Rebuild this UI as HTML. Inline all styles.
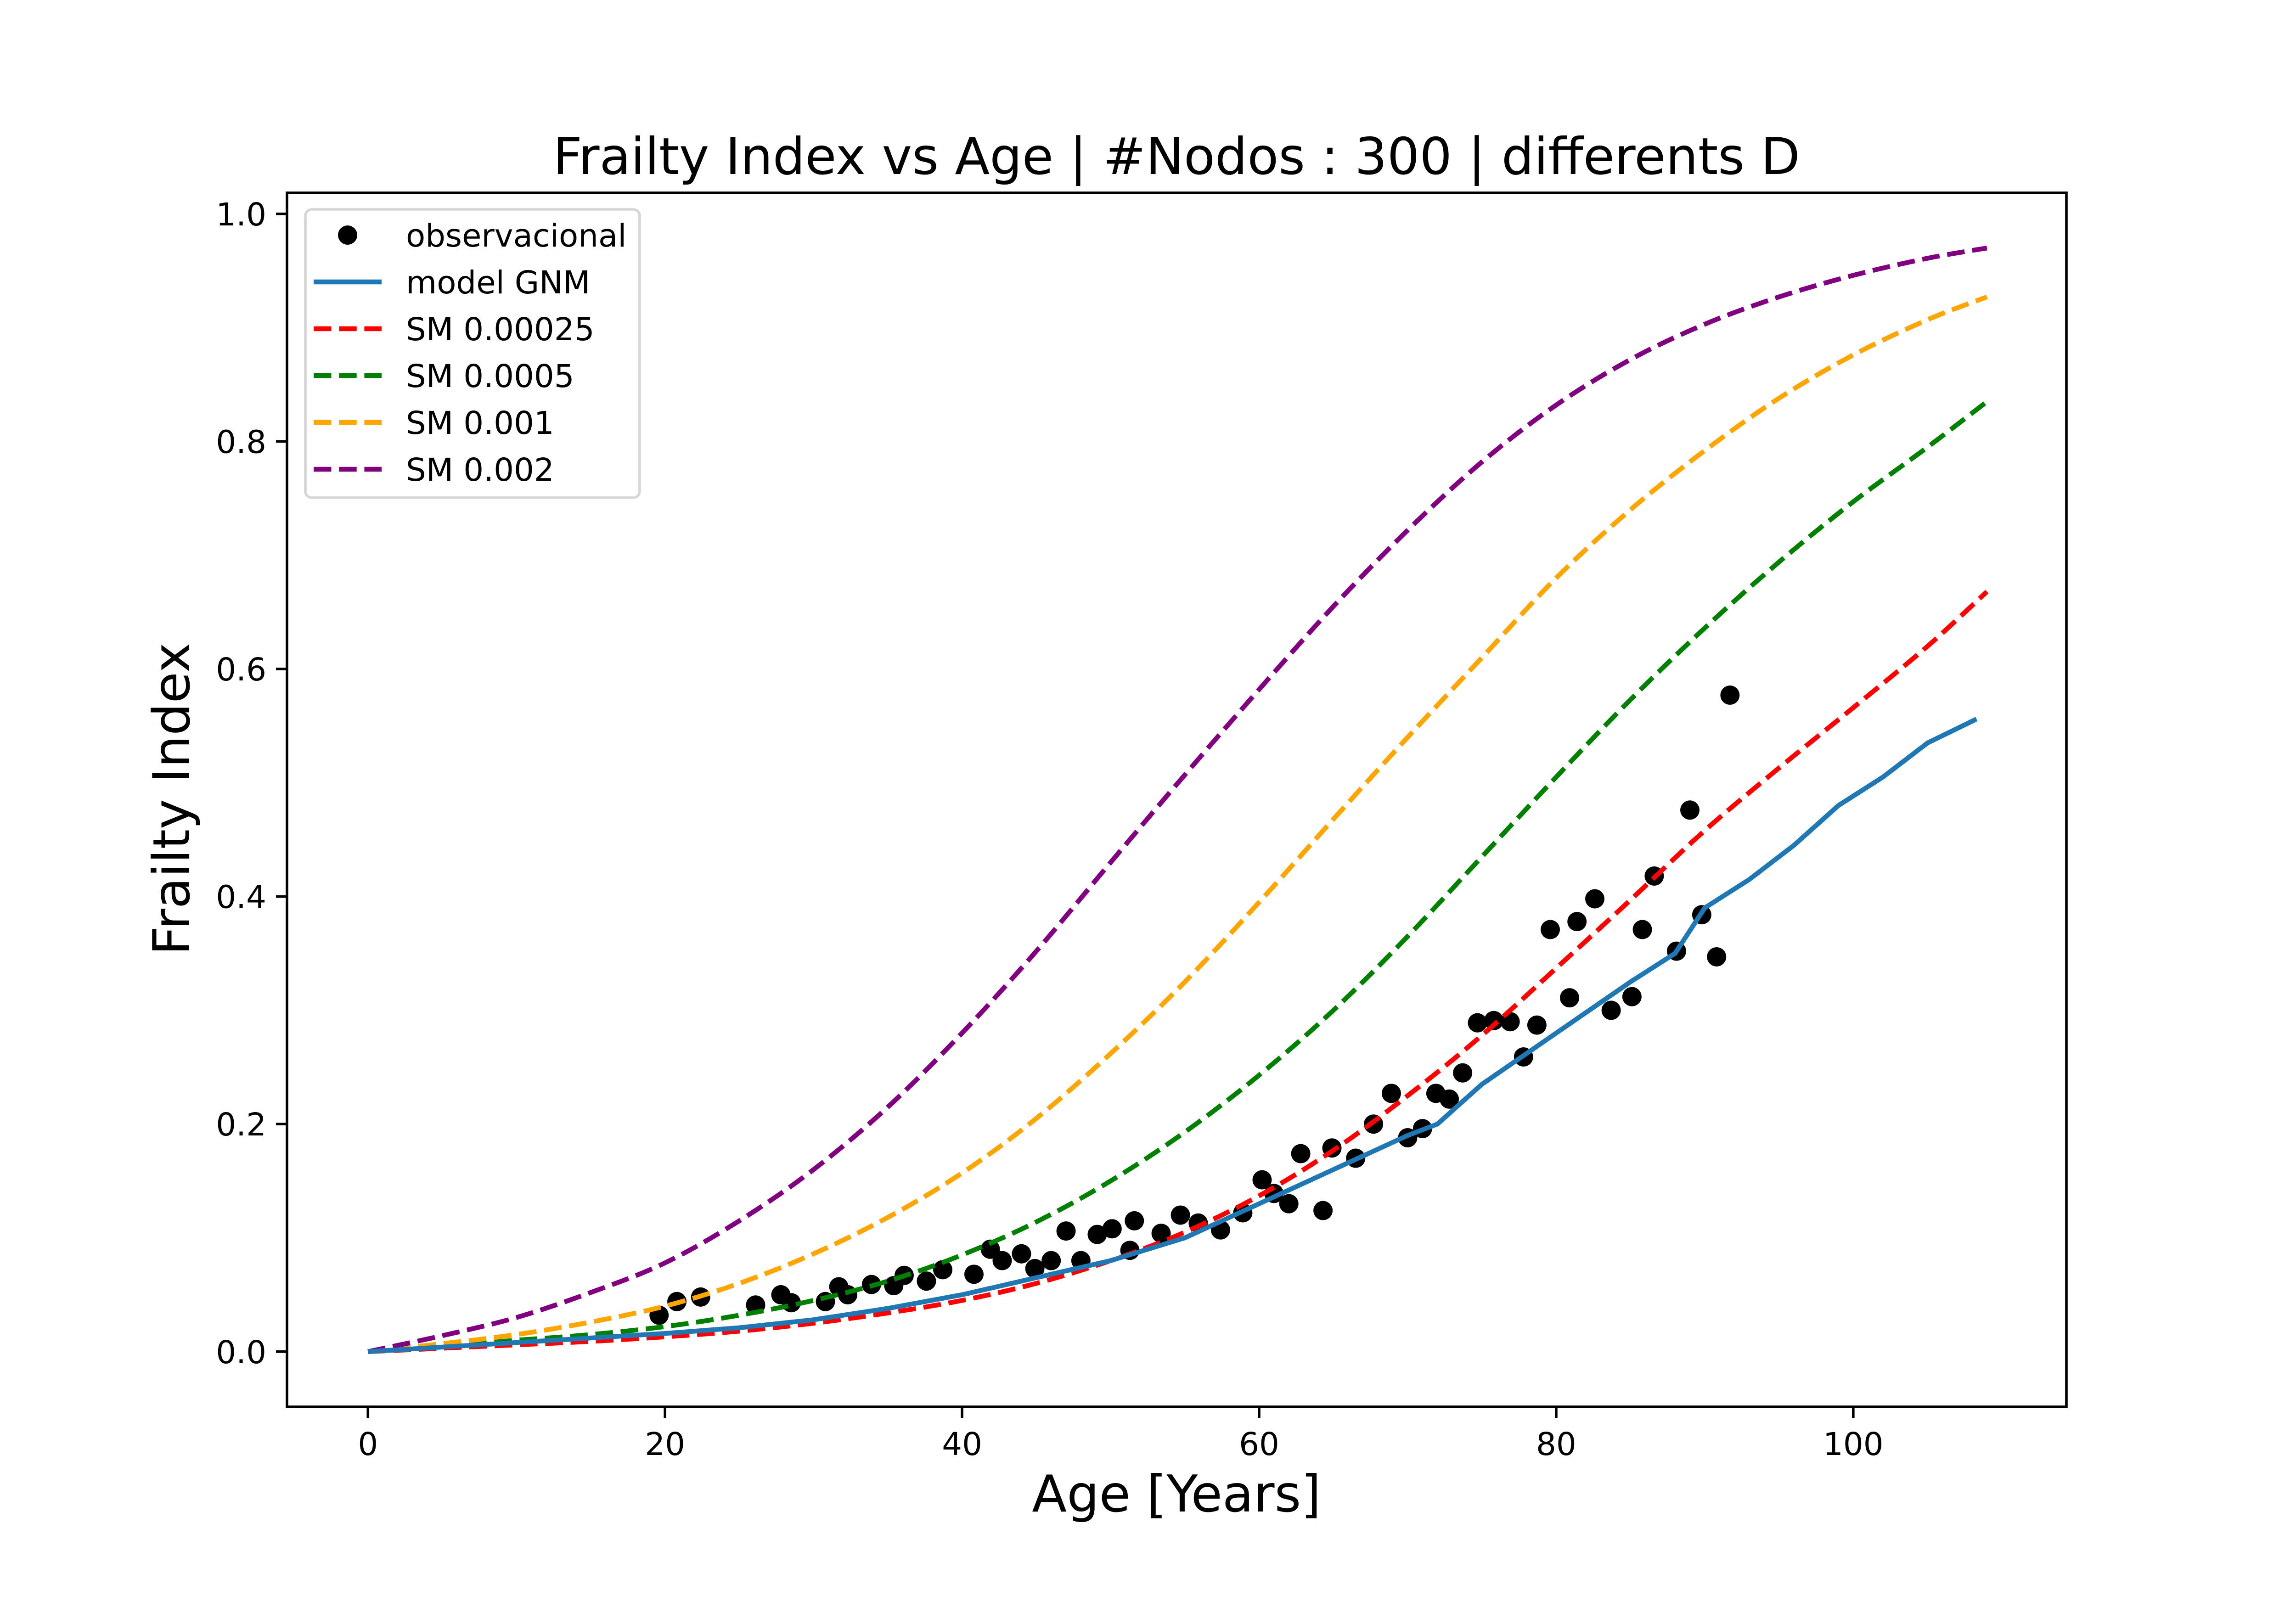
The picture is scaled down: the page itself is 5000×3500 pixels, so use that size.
<!DOCTYPE html>
<html><head><meta charset="utf-8"><style>
html,body{margin:0;padding:0;background:#fff;}
svg{display:block;font-family:"DejaVu Sans","Liberation Sans",sans-serif;}
</style></head><body>
<svg id="chart" width="5000" height="3500" viewBox="0 0 5000 3500" xmlns="http://www.w3.org/2000/svg">
<rect x="0" y="0" width="5000" height="3500" fill="#fff"/>
<text x="2562" y="379" font-size="111" text-anchor="middle">Frailty Index vs Age | #Nodos : 300 | differents D</text>
<text x="2562" y="3292" font-size="111" text-anchor="middle">Age [Years]</text>
<text transform="translate(412,1740) rotate(-90)" font-size="111" text-anchor="middle">Frailty Index</text>
<g id="plot"></g>
<rect x="625" y="420" width="3875" height="2644" fill="none" stroke="#000" stroke-width="5.6"/>
<g id="legend">
<rect x="665" y="456" width="728" height="628" rx="14" fill="#fff" fill-opacity="0.8" stroke="#d6d6d6" stroke-width="5.6"/>
</g>
</svg>
<script>
const xTicks=[0,20,40,60,80,100];
const yTicks=[0.0,0.2,0.4,0.6,0.8,1.0];
const yTickLabels=["0.0","0.2","0.4","0.6","0.8","1.0"];
const smAges=[0,5,10,15,20,25,30,35,40,45,50,55,60,65,70,75,80,85,90,95,100,105,109];
const smPurple=[0,0.014,0.03,0.052,0.078,0.115,0.16,0.215,0.28,0.352,0.43,0.507,0.582,0.655,0.722,0.782,0.832,0.872,0.903,0.927,0.946,0.961,0.97];
const smOrange=[0,0.007,0.015,0.026,0.04,0.06,0.086,0.118,0.157,0.205,0.262,0.325,0.395,0.468,0.54,0.61,0.68,0.74,0.792,0.838,0.876,0.907,0.927];
const smGreen=[0,0.005,0.01,0.015,0.022,0.032,0.045,0.062,0.085,0.114,0.15,0.193,0.243,0.3,0.365,0.435,0.505,0.573,0.636,0.694,0.747,0.795,0.835];
const smRed=[0,0.003,0.006,0.009,0.013,0.018,0.025,0.034,0.045,0.06,0.08,0.105,0.137,0.177,0.225,0.278,0.337,0.397,0.458,0.513,0.566,0.62,0.668];
const gnmAges=[0,5,10,15,20,25,30,35,40,42,45,50,55,60,65,70,72,75,80,85,88,90,93,96,99,102,105,108.3];
const gnmVals=[0,0.004,0.008,0.012,0.016,0.021,0.028,0.038,0.05,0.056,0.065,0.08,0.1,0.13,0.16,0.19,0.2,0.235,0.28,0.325,0.35,0.39,0.415,0.445,0.48,0.505,0.535,0.556];
const obsAges=[19.6,20.8,22.4,26.1,27.8,28.5,30.8,31.7,32.3,33.9,35.4,36.1,37.6,38.7,40.8,41.9,42.7,44,44.9,46,47,48,49.1,50.1,51.3,51.6,53.4,54.7,55.9,57.4,58.9,60.2,61,62,62.8,64.3,64.9,66.5,67.7,68.9,70,71,71.9,72.8,73.7,74.7,75.8,76.9,77.8,78.7,79.6,80.9,81.4,82.6,83.7,85.1,85.8,86.6,88.1,89,89.8,90.8,91.7];
const obsVals=[0.032,0.044,0.048,0.041,0.05,0.043,0.044,0.057,0.05,0.059,0.058,0.067,0.062,0.072,0.068,0.09,0.08,0.086,0.073,0.08,0.106,0.08,0.103,0.108,0.089,0.115,0.104,0.12,0.113,0.107,0.122,0.151,0.139,0.13,0.174,0.124,0.179,0.17,0.2,0.227,0.188,0.196,0.227,0.222,0.245,0.289,0.291,0.29,0.259,0.287,0.371,0.311,0.378,0.398,0.3,0.312,0.371,0.418,0.352,0.476,0.384,0.347,0.577];

const NS="http://www.w3.org/2000/svg";
const X0=625,X1=4500,Y0=3064,Y1=420;
const xmin=-5.45,xmax=114.35,ymin=-0.0485,ymax=1.0185;
function sx(v){return X0+(v-xmin)/(xmax-xmin)*(X1-X0);}
function sy(v){return Y0-(v-ymin)/(ymax-ymin)*(Y0-Y1);}
const plot=document.getElementById('plot');
function mk(t,a,p){const e=document.createElementNS(NS,t);for(const k in a)e.setAttribute(k,a[k]);(p||plot).appendChild(e);return e;}
function smoothPath(xs,ys){
  const P=xs.map((x,i)=>[sx(x),sy(ys[i])]);
  let d="M"+P[0][0].toFixed(1)+","+P[0][1].toFixed(1);
  for(let i=0;i<P.length-1;i++){
    const p0=P[Math.max(0,i-1)],p1=P[i],p2=P[i+1],p3=P[Math.min(P.length-1,i+2)];
    const c1=[p1[0]+(p2[0]-p0[0])/6,p1[1]+(p2[1]-p0[1])/6];
    const c2=[p2[0]-(p3[0]-p1[0])/6,p2[1]-(p3[1]-p1[1])/6];
    d+=" C"+c1[0].toFixed(1)+","+c1[1].toFixed(1)+" "+c2[0].toFixed(1)+","+c2[1].toFixed(1)+" "+p2[0].toFixed(1)+","+p2[1].toFixed(1);
  }
  return d;
}
function linePath(xs,ys){return xs.map((x,i)=>(i?"L":"M")+sx(x).toFixed(1)+","+sy(ys[i]).toFixed(1)).join(" ");}
xTicks.forEach(t=>{
  const l=mk('line',{x1:sx(t),x2:sx(t),y1:Y0,y2:Y0+24,stroke:'#000','stroke-width':5.6});
  
  
  const tx=mk('text',{x:sx(t),y:Y0+105,'font-size':69,'text-anchor':'middle'});
  tx.textContent=String(t);
  
  
});
yTicks.forEach((t,i)=>{
  const l=mk('line',{x1:X0-24,x2:X0,y1:sy(t),y2:sy(t),stroke:'#000','stroke-width':5.6});
  
  
  const tx=mk('text',{x:X0-45,y:sy(t)+25,'font-size':69,'text-anchor':'end'});
  tx.textContent=yTickLabels[i];
  
  
});
const dash='38.5 16.7';
const series=[
 ['sm-0.002-line',smPurple,'#800080'],
 ['sm-0.001-line',smOrange,'#ffa500'],
 ['sm-0.0005-line',smGreen,'#008000'],
 ['sm-0.00025-line',smRed,'#ff0000']
];
const gnm=mk('path',{d:linePath(gnmAges,gnmVals),fill:'none',stroke:'#1f77b4','stroke-width':10.4,'stroke-linejoin':'round'});


obsAges.forEach((a,i)=>{
  const c=mk('circle',{cx:sx(a),cy:sy(obsVals[i]),r:21,fill:'#000'});
  
  
});
series.slice().reverse().forEach(s=>{
  const p=mk('path',{d:smoothPath(smAges,s[1]),fill:'none',stroke:s[2],'stroke-width':10.4,'stroke-dasharray':dash});
  
  
});
plot.appendChild(gnm);
const leg=document.getElementById('legend');
const entries=[['observacional',null,null],['model GNM','#1f77b4',false],['SM 0.00025','#ff0000',true],['SM 0.0005','#008000',true],['SM 0.001','#ffa500',true],['SM 0.002','#800080',true]];
entries.forEach((e,i)=>{
  const y=512+i*102;
  if(e[1]===null){
    const c=mk('circle',{cx:757,cy:y,r:21,fill:'#000'},leg);
    
    
  } else {
    const a={x1:683,x2:831,y1:y,y2:y,stroke:e[1],'stroke-width':10.4};
    if(e[2])a['stroke-dasharray']=dash;
    const l=mk('line',a,leg);
    
    
  }
  const t=mk('text',{x:884,y:y+25,'font-size':69},leg);
  t.textContent=e[0];
  
  
});
</script>
</body></html>
